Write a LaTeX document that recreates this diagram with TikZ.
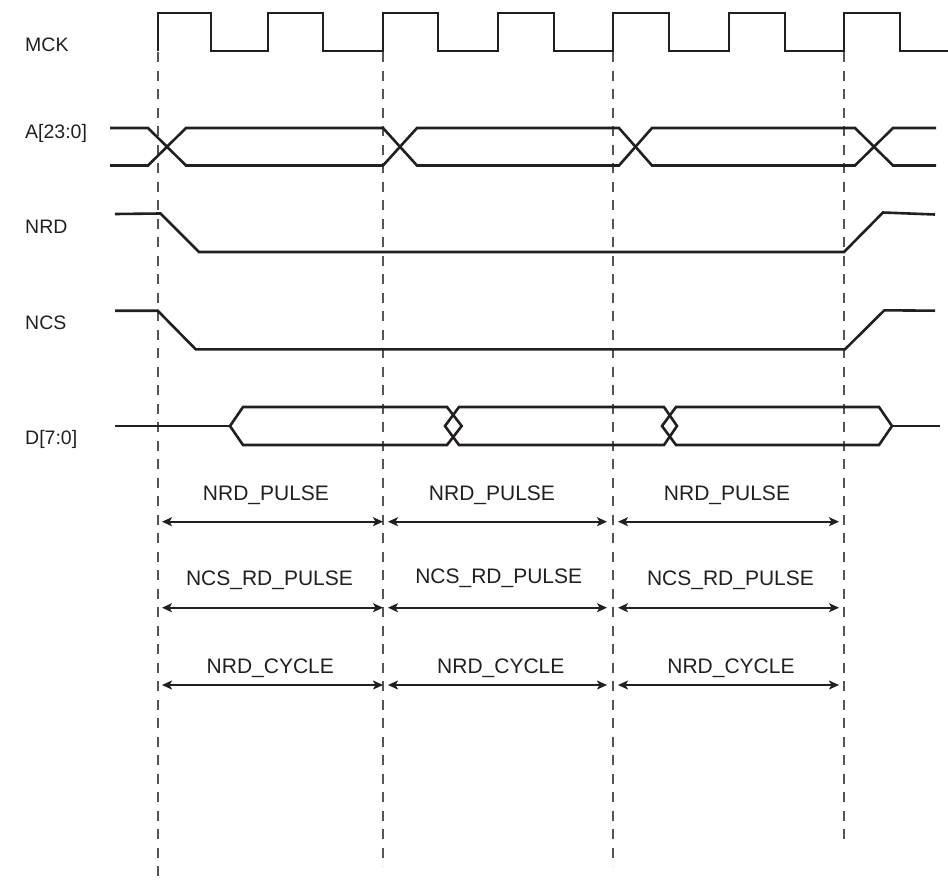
\documentclass[tikz,border=0pt]{standalone}
\usepackage{fontspec}
\setmainfont{Liberation Sans}
\usetikzlibrary{arrows.meta}
\definecolor{sig}{HTML}{231F20}
\definecolor{guidec}{HTML}{555555}
\begin{document}
\begin{tikzpicture}[x=1pt,y=-1pt,
  signal/.style={draw=sig,line width=2.6pt,line join=miter},
  guideline/.style={draw=guidec,line width=1.3pt,dash pattern=on 10pt off 8.5pt},
  span/.style={draw=sig,line width=1.6pt,{Stealth[length=10pt,width=9pt,inset=2.5pt]}-{Stealth[length=10pt,width=9pt,inset=2.5pt]}},
  lbl/.style={font=\fontsize{21}{25}\selectfont,text=sig,inner sep=0pt,anchor=base},
  sname/.style={font=\fontsize{19.5}{24}\selectfont,text=sig,inner sep=0pt,anchor=base west}]
\useasboundingbox (0,0) rectangle (948,881);

% signal names
\node[sname] (nMCK) at (25,51.5) {MCK};
\node[sname] (nA) at (25,138.5) {A[23:0]};
\node[sname] (nNRD) at (25,233.5) {NRD};
\node[sname] (nNCS) at (25,329.5) {NCS};
\node[sname] (nD) at (25,444.5) {D[7:0]};

% guide lines
\coordinate (g1t) at (158,52); \coordinate (g1b) at (158,880);
\coordinate (g2t) at (383,52); \coordinate (g2b) at (383,866);
\coordinate (g3t) at (613,52); \coordinate (g3b) at (613,866);
\coordinate (g4t) at (844,52); \coordinate (g4b) at (844,844);
\draw[guideline] (g1t) -- (g1b);
\draw[guideline] (g2t) -- (g2b);
\draw[guideline] (g3t) -- (g3b);
\draw[guideline] (g4t) -- (g4b);

% MCK
\draw[signal] (158,51) -- (158,13) -- (211,13) -- (211,51) -- (268,51) -- (268,13)
  -- (323,13) -- (323,51) -- (383,51) -- (383,13) -- (438,13) -- (438,51)
  -- (498,51) -- (498,13) -- (554,13) -- (554,51) -- (613,51) -- (613,13)
  -- (669,13) -- (669,51) -- (729,51) -- (729,13) -- (785,13) -- (785,51)
  -- (844,51) -- (844,13) -- (900,13) -- (900,51) -- (948,51);

% A[23:0]
\draw[signal] (110,128) -- (148,128) -- (186,165.5) -- (383,165.5) -- (417,128)
  -- (619,128) -- (652,165.5) -- (855,165.5) -- (893,128) -- (936,128);
\draw[signal] (110,165.5) -- (148,165.5) -- (186,128) -- (383,128) -- (417,165.5)
  -- (619,165.5) -- (652,128) -- (855,128) -- (893,165.5) -- (936,165.5);

% NRD
\draw[signal] (115,214) -- (160.5,213.5) -- (199,252) -- (844,252) -- (883,212.5) -- (935,214.5);

% NCS
\draw[signal] (115,310.7) -- (157.7,310.7) -- (195.7,349.3) -- (845,349.3) -- (884.3,310.3) -- (935,310.7);

% D[7:0]
\draw[signal] (115,426) -- (230,426);
\draw[signal] (230,426) -- (243,407) -- (447,407) -- (461.7,426) -- (447,445) -- (243,445) -- cycle;
\draw[signal] (445,426) -- (459,407) -- (664,407) -- (677,426) -- (664,445) -- (459,445) -- cycle;
\draw[signal] (662,426) -- (676,407) -- (879,407) -- (892,426) -- (879,445) -- (676,445) -- cycle;
\draw[signal] (892,426) -- (940,426);

% span arrows
\coordinate (a1l) at (162,521.7); \coordinate (a1r) at (383,521.7);
\coordinate (a2l) at (388,521.7); \coordinate (a2r) at (607,521.7);
\coordinate (a3l) at (618,521.7); \coordinate (a3r) at (839,521.7);
\coordinate (b1l) at (162,607.7); \coordinate (b1r) at (383,607.7);
\coordinate (b2l) at (388,607.7); \coordinate (b2r) at (607,607.7);
\coordinate (b3l) at (618,607.7); \coordinate (b3r) at (839,607.7);
\coordinate (c1l) at (162,685); \coordinate (c1r) at (383,685);
\coordinate (c2l) at (388,685); \coordinate (c2r) at (607,685);
\coordinate (c3l) at (618,685); \coordinate (c3r) at (839,685);
\draw[span] (a1l) -- (a1r);
\draw[span] (a2l) -- (a2r);
\draw[span] (a3l) -- (a3r);
\draw[span] (b1l) -- (b1r);
\draw[span] (b2l) -- (b2r);
\draw[span] (b3l) -- (b3r);
\draw[span] (c1l) -- (c1r);
\draw[span] (c2l) -- (c2r);
\draw[span] (c3l) -- (c3r);

% span labels
\node[lbl] (t1a) at (266,500.2) {NRD\_PULSE};
\node[lbl] (t2a) at (492,500.2) {NRD\_PULSE};
\node[lbl] (t3a) at (727,500.2) {NRD\_PULSE};
\node[lbl] (t1b) at (269.5,585.5) {NCS\_RD\_PULSE};
\node[lbl] (t2b) at (498.7,583.5) {NCS\_RD\_PULSE};
\node[lbl] (t3b) at (730.5,585.5) {NCS\_RD\_PULSE};
\node[lbl] (t1c) at (270.3,673.5) {NRD\_CYCLE};
\node[lbl] (t2c) at (500.8,673.5) {NRD\_CYCLE};
\node[lbl] (t3c) at (731,673.5) {NRD\_CYCLE};
\end{tikzpicture}
\end{document}
